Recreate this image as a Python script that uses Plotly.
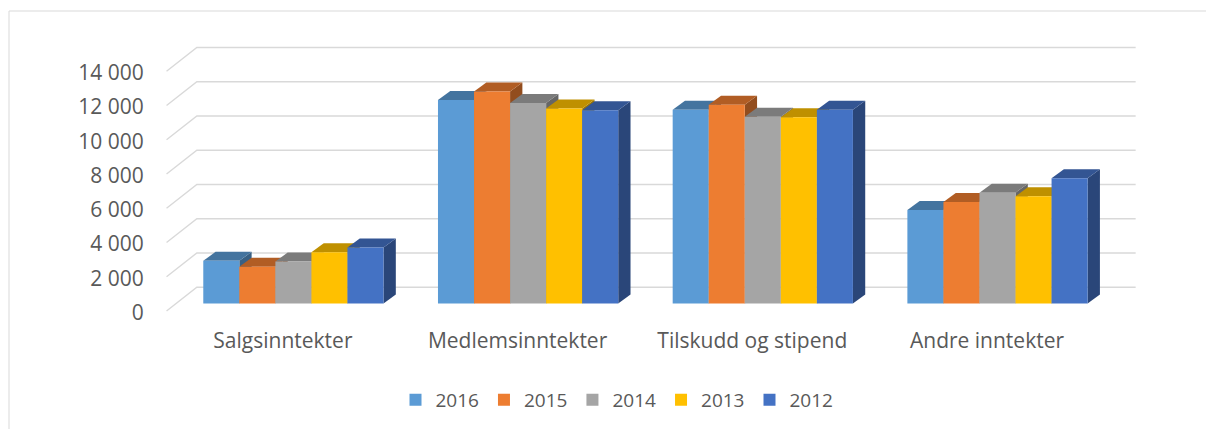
import plotly.graph_objects as go

# ---------------- data ----------------
categories = ["Salgsinntekter", "Medlemsinntekter", "Tilskudd og stipend", "Andre inntekter"]
years = ["2016", "2015", "2014", "2013", "2012"]
v2016 = [2490, 11890, 11320, 5460]
v2015 = [2140, 12380, 11600, 5930]
v2014 = [2450, 11710, 10910, 6470]
v2013 = [3000, 11390, 10880, 6260]
v2012 = [3270, 11290, 11320, 7310]
series = [v2016, v2015, v2014, v2013, v2012]
y_ticks = [0, 2000, 4000, 6000, 8000, 10000, 12000, 14000]

front_colors = ["#5B9BD5", "#ED7D31", "#A5A5A5", "#FFC000", "#4472C4"]

# ---------------- geometry (pixel-based layout) ----------------
W, H = 1206, 429
ML, MR, MT, MB = 160, 66, 40, 114
PW, PH = W - ML - MR, H - MT - MB
PX_PER_CAT = 234.7          # pixels per category unit
PX_PER_VAL = 34.25 / 2000   # pixels per value unit
CAT0_PX = 293.4             # pixel x of first category centre (bar plane)
ZERO_PY = 303.5             # pixel y of value 0 (bar plane)

xr0 = -(CAT0_PX - ML) / PX_PER_CAT
xr1 = xr0 + PW / PX_PER_CAT
yr0 = -((MT + PH) - ZERO_PY) / PX_PER_VAL
yr1 = yr0 + PH / PX_PER_VAL


def dx(px):
    return px / PX_PER_CAT


def dy(px):
    return px / PX_PER_VAL


BARGAP = 0.232
n = len(series)
bar_w = (1 - BARGAP) / n
BAR_DX, BAR_DY = dx(12.3), dy(9.0)       # bar depth
FRONT_DX, FRONT_DY = dx(9.5), dy(7.5)    # bar plane -> front of floor
BACK_DX, BACK_DY = dx(20.8), dy(16.3)    # bar plane -> back wall


def shade(hexcol, f):
    h = hexcol.lstrip("#")
    r, g, b = (int(h[i:i + 2], 16) for i in (0, 2, 4))
    return "#%02X%02X%02X" % (int(r * f), int(g * f), int(b * f))


fig = go.Figure()
xs = list(range(len(categories)))
for k, (yr, vals, col) in enumerate(zip(years, series, front_colors)):
    fig.add_trace(go.Bar(
        x=xs, y=vals, name=yr,
        marker=dict(color=col, line=dict(width=0)),
        hovertemplate="%{y}<extra>" + yr + "</extra>",
    ))

shapes = []
# chart border
shapes.append(dict(type="rect", xref="paper", yref="paper", layer="below",
                   x0=(9 - ML) / PW, x1=(W + 20 - ML) / PW,
                   y0=-(H + 20 - (MT + PH)) / PH, y1=((MT + PH) - 11) / PH,
                   line=dict(color="#D9D9D9", width=1), fillcolor="rgba(0,0,0,0)"))
# gridlines (floor diagonal + back wall)
left_edge = -0.5
right_edge = len(categories) - 0.5
for v in y_ticks:
    p = (f"M {left_edge - FRONT_DX},{v - FRONT_DY} "
         f"L {left_edge + BACK_DX},{v + BACK_DY} "
         f"L {right_edge + BACK_DX},{v + BACK_DY}")
    shapes.append(dict(type="path", path=p, xref="x", yref="y", layer="below",
                       line=dict(color="#D9D9D9", width=1.4)))
# 3D faces of the bars
for k, (vals, col) in enumerate(zip(series, front_colors)):
    top_c = shade(col, 0.75)
    side_c = shade(col, 0.62)
    for i, v in enumerate(vals):
        xl = i - (1 - BARGAP) / 2 + k * bar_w
        xrr = xl + bar_w
        side = (f"M {xrr},0 L {xrr},{v} L {xrr + BAR_DX},{v + BAR_DY} "
                f"L {xrr + BAR_DX},{BAR_DY} Z")
        shapes.append(dict(type="path", path=side, xref="x", yref="y", layer="below",
                           fillcolor=side_c, line=dict(width=0)))
        top = (f"M {xl},{v} L {xrr},{v} L {xrr + BAR_DX},{v + BAR_DY} "
               f"L {xl + BAR_DX},{v + BAR_DY} Z")
        shapes.append(dict(type="path", path=top, xref="x", yref="y", layer="below",
                           fillcolor=top_c, line=dict(width=0)))

label_shift_x = dx(10.5)
label_shift_y = dy(9.0)

fig.update_layout(
    width=W, height=H,
    margin=dict(l=ML, r=MR, t=MT, b=MB, pad=0),
    paper_bgcolor="white", plot_bgcolor="rgba(0,0,0,0)",
    barmode="group", bargap=BARGAP, bargroupgap=0,
    font=dict(family="Open Sans", color="#595959", size=21),
    shapes=shapes,
    showlegend=True,
    legend=dict(orientation="h", xref="container", yref="container",
                x=617 / W, xanchor="center", y=1 - 400 / H, yanchor="middle",
                font=dict(size=19, color="#595959"), traceorder="normal",
                itemwidth=30),
    xaxis=dict(range=[xr0, xr1], showgrid=False, zeroline=False, showline=False,
               tickmode="array", tickvals=[i - label_shift_x for i in xs],
               ticktext=categories, ticks="outside", ticklen=7,
               tickcolor="rgba(0,0,0,0)", fixedrange=True),
    yaxis=dict(range=[yr0, yr1], showgrid=False, zeroline=False, showline=False,
               tickmode="array", tickvals=[v - label_shift_y for v in y_ticks],
               ticktext=[f"{v:,}".replace(",", " ") for v in y_ticks],
               ticks="outside", ticklen=11, tickcolor="rgba(0,0,0,0)",
               fixedrange=True),
)

fig.write_html("out.html",
               config={"displayModeBar": False},
               post_script="document.body.style.margin='0';"
                           "document.body.style.padding='0';")
